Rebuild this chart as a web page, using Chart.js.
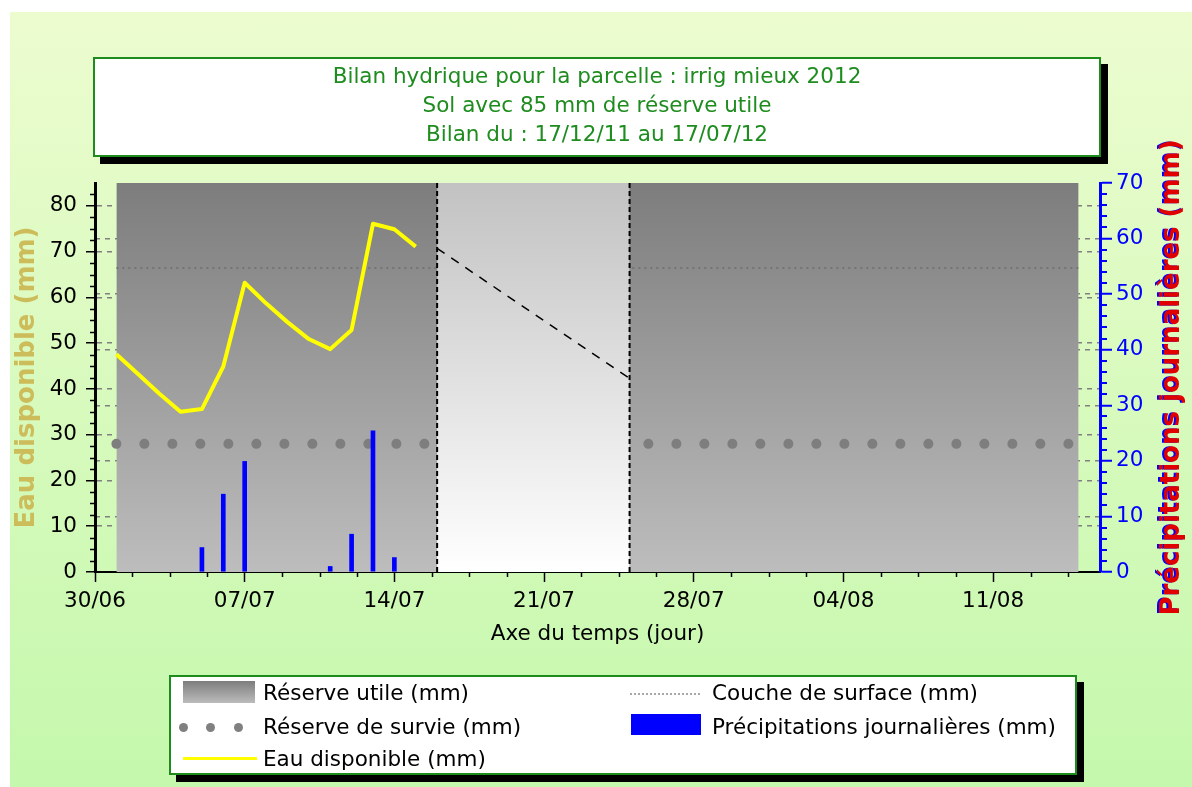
<!DOCTYPE html>
<html lang="fr">
<head>
<meta charset="utf-8">
<title>Bilan hydrique</title>
<script src="https://cdn.jsdelivr.net/npm/chart.js@4.4.0/dist/chart.umd.min.js"></script>
<style>
    html, body {
        margin: 0;
        padding: 0;
        background: #ffffff;
    }

    body {
        position: relative;
        width: 1192px;
        height: 787px;
        overflow: hidden;
        font-family: "DejaVu Sans", sans-serif;
    }

    .backdrop {
        position: absolute;
        left: 10px;
        top: 12px;
        right: 0;
        bottom: 0;
        background: linear-gradient(#ecfccf, #c4f8ac);
    }

    #chart {
        position: absolute;
        left: 0;
        top: 0;
    }

    .box {
        position: absolute;
        box-sizing: border-box;
        background: #ffffff;
        border: 2px solid #1d8c1d;
        box-shadow: 7px 7px 0 #000000;
    }

    .title-box {
        left: 93px;
        top: 57px;
        width: 1008px;
        height: 100px;
        padding-top: 2px;
        color: #1e8c1e;
        font-size: 21.5px;
        line-height: 29px;
        text-align: center;
        white-space: nowrap;
    }

    .legend-box {
        left: 169px;
        top: 675px;
        width: 908px;
        height: 100px;
        font-size: 21.5px;
        color: #000000;
    }

    .legend-box > div {
        position: absolute;
    }

    .label {
        line-height: 26px;
        white-space: nowrap;
    }

    .swatch-reserve {
        background: linear-gradient(#7d7d7d, #bcbcbc);
    }

    .dot {
        width: 9px;
        height: 9px;
        border-radius: 50%;
        background: #808080;
    }
</style>
</head>
<body>
<div class="backdrop"></div>
<canvas id="chart" width="1192" height="787"></canvas>

<div class="box title-box">
    <div>Bilan hydrique pour la parcelle : irrig mieux 2012</div>
    <div>Sol avec 85 mm de réserve utile</div>
    <div>Bilan du : 17/12/11 au 17/07/12</div>
</div>

<div class="box legend-box">
    <div class="swatch-reserve" style="left:12px; top:4px; width:72px; height:22px;"></div>
    <div class="label" style="left:92px; top:3px;">Réserve utile (mm)</div>

    <div class="dot" style="left:8px; top:46px;"></div>
    <div class="dot" style="left:35px; top:46px;"></div>
    <div class="dot" style="left:63px; top:46px;"></div>
    <div class="label" style="left:92px; top:37px;">Réserve de survie (mm)</div>

    <div style="left:12px; top:80px; width:74px; height:3px; background:#ffff00;"></div>
    <div class="label" style="left:92px; top:69px;">Eau disponible (mm)</div>

    <div style="left:459px; top:16px; width:70px; height:0; border-top:2px dotted #a8a8a8;"></div>
    <div class="label" style="left:541px; top:3px;">Couche de surface (mm)</div>

    <div style="left:460px; top:37px; width:70px; height:21px; background:#0000ff;"></div>
    <div class="label" style="left:541px; top:37px;">Précipitations journalières (mm)</div>
</div>

<script>
// jours comptés depuis le 30/06
const xRange = [0, 47];
const xTickLabels = ["30/06", "07/07", "14/07", "21/07", "28/07", "04/08", "11/08"];

const observedDays = [1, 2, 3, 4, 5, 6, 7, 8, 9, 10, 11, 12, 13, 14, 15];
const eauDisponible = [47.6, 43.3, 39.0, 35.0, 35.6, 44.9, 63.2, 58.7, 54.6, 50.9, 48.7, 52.9, 76.1, 74.9, 71.1];

// prévision : 16/07 -> 25/07
const forecastDays = [16, 25];
const forecastEau = [70.7, 42.3];

const rainDays = [5, 6, 7, 11, 12, 13, 14];
const rainValues = [4.4, 14.0, 19.9, 1.0, 6.8, 25.4, 2.6];

const reserveDays = [1, 46];
const reserveUtile = [85, 85];
const reserveSurvie = [28, 28];
const coucheSurface = [66.4, 66.4];

const yRange = [0, 85];
const y2Range = [0, 70];

const leftTitle = "Eau disponible (mm)";
const rightTitle = "Précipitations journalières (mm)";

const minorSteps = {
    x: 1.75,
    y: 2.5,
    y2: 2
};

function points(xs, ys) {
    return xs.map((x, i) => ({ x: x, y: ys[i] }));
}

function verticalGradient(top, bottom) {
    return (context) => {
        const chart = context.chart;
        const area = chart.chartArea;

        if (!area) {
            return bottom;
        }

        const g = chart.ctx.createLinearGradient(0, area.top, 0, area.bottom);
        g.addColorStop(0, top);
        g.addColorStop(1, bottom);
        return g;
    };
}

// pas de trait pointillé sur les bords du cadre
function innerGrid(range) {
    return (c) => {
        if (!c.tick || c.tick.value === range[0] || c.tick.value === range[1]) {
            return "rgba(0,0,0,0)";
        }
        return "#808080";
    };
}

const minorTicks = {
    id: "minorTicks",
    afterDraw(chart) {
        const ctx = chart.ctx;
        const { x, y, y2 } = chart.scales;

        ctx.save();
        ctx.lineWidth = 1.5;

        ctx.strokeStyle = "#000000";
        for (let v = minorSteps.x; v < x.max; v += minorSteps.x) {
            if (Math.abs(v / 7 - Math.round(v / 7)) < 1e-6) {
                continue;
            }
            const px = Math.round(x.getPixelForValue(v)) + 0.5;
            ctx.beginPath();
            ctx.moveTo(px, x.top);
            ctx.lineTo(px, x.top + 5);
            ctx.stroke();
        }

        for (let v = minorSteps.y; v < y.max; v += minorSteps.y) {
            if (v % 10 === 0) {
                continue;
            }
            const py = Math.round(y.getPixelForValue(v)) + 0.5;
            ctx.beginPath();
            ctx.moveTo(y.right - 5, py);
            ctx.lineTo(y.right, py);
            ctx.stroke();
        }

        ctx.strokeStyle = "#0000ff";
        ctx.lineWidth = 2;
        for (let v = minorSteps.y2; v < y2.max; v += minorSteps.y2) {
            if (v % 10 === 0) {
                continue;
            }
            const py = Math.round(y2.getPixelForValue(v));
            ctx.beginPath();
            ctx.moveTo(y2.left, py);
            ctx.lineTo(y2.left + 7, py);
            ctx.stroke();
        }

        ctx.restore();
    }
};

const rightAxisTitle = {
    id: "rightAxisTitle",
    afterDraw(chart) {
        const ctx = chart.ctx;
        const area = chart.chartArea;
        const y2 = chart.scales.y2;

        ctx.save();
        ctx.translate(y2.right - 20, (area.top + area.bottom) / 2);
        ctx.rotate(-Math.PI / 2);
        ctx.font = "bold 26px 'DejaVu Sans'";
        ctx.textAlign = "center";
        ctx.textBaseline = "middle";
        ctx.fillStyle = "#0000ff";
        ctx.fillText(rightTitle, 0, -2);
        ctx.fillStyle = "#e00000";
        ctx.fillText(rightTitle, 0, 0);
        ctx.restore();
    }
};

Chart.defaults.font.family = "'DejaVu Sans'";
Chart.defaults.font.size = 21.5;
Chart.defaults.color = "#000000";

new Chart(document.getElementById("chart"), {
    type: "line",
    data: {
        datasets: [
            {
                label: "Réserve utile (mm)",
                data: points(reserveDays, reserveUtile),
                fill: "origin",
                backgroundColor: verticalGradient("#7d7d7d", "#bdbdbd"),
                borderWidth: 0,
                pointRadius: 0,
                order: 10
            },
            {
                label: "Couche de surface (mm)",
                data: points(reserveDays, coucheSurface),
                borderColor: "#6c6c6c",
                borderWidth: 1.5,
                borderDash: [2, 4],
                pointRadius: 0,
                order: 9
            },
            {
                label: "Réserve de survie (mm)",
                data: points(reserveDays, reserveSurvie),
                borderColor: "#7e7e7e",
                borderWidth: 10,
                borderDash: [0, 28],
                borderCapStyle: "round",
                pointRadius: 0,
                order: 8
            },
            {
                label: "Prévision",
                data: points(forecastDays, [yRange[1], yRange[1]]),
                fill: "origin",
                backgroundColor: verticalGradient("#c2c2c2", "#ffffff"),
                borderWidth: 0,
                pointRadius: 0,
                order: 7
            },
            {
                label: "Début prévision",
                data: points([forecastDays[0], forecastDays[0]], yRange),
                borderColor: "#000000",
                borderWidth: 2,
                borderDash: [5, 3],
                pointRadius: 0,
                order: 6
            },
            {
                label: "Fin prévision",
                data: points([forecastDays[1], forecastDays[1]], yRange),
                borderColor: "#000000",
                borderWidth: 2,
                borderDash: [5, 3],
                pointRadius: 0,
                order: 6
            },
            {
                label: "Eau disponible prévue",
                data: points(forecastDays, forecastEau),
                borderColor: "#000000",
                borderWidth: 1.5,
                borderDash: [9, 8],
                pointRadius: 0,
                order: 5
            },
            {
                label: "Eau disponible (mm)",
                data: points(observedDays, eauDisponible),
                borderColor: "#ffff00",
                borderWidth: 4,
                borderJoinStyle: "round",
                pointRadius: 0,
                tension: 0,
                order: 3
            },
            {
                type: "bar",
                label: "Précipitations journalières (mm)",
                data: points(rainDays, rainValues),
                yAxisID: "y2",
                backgroundColor: "#0000ff",
                barThickness: 4,
                order: 2
            }
        ]
    },
    options: {
        responsive: false,
        animation: false,
        events: [],
        layout: {
            padding: {
                top: 183,
                left: 0,
                right: 0,
                bottom: 0
            }
        },
        plugins: {
            legend: { display: false },
            tooltip: { enabled: false }
        },
        scales: {
            x: {
                type: "linear",
                position: "bottom",
                min: xRange[0],
                max: xRange[1],
                offset: false,
                afterFit(scale) {
                    scale.height = 215;
                },
                ticks: {
                    stepSize: 7,
                    includeBounds: false,
                    autoSkip: false,
                    maxRotation: 0,
                    padding: 7,
                    callback: (v) => xTickLabels[v / 7] ?? ""
                },
                grid: {
                    offset: false,
                    drawOnChartArea: false,
                    tickLength: 10,
                    tickColor: "#000000",
                    tickWidth: 1.5
                },
                border: {
                    color: "#000000",
                    width: 2
                },
                title: {
                    display: true,
                    text: "Axe du temps (jour)",
                    padding: { top: 0, bottom: 140 }
                }
            },
            y: {
                position: "left",
                min: yRange[0],
                max: yRange[1],
                afterFit(scale) {
                    scale.width = 95;
                },
                ticks: {
                    stepSize: 10,
                    includeBounds: false,
                    padding: 9
                },
                grid: {
                    color: innerGrid(yRange),
                    lineWidth: 1.5,
                    tickLength: 9,
                    tickColor: "#000000",
                    tickWidth: 1.5
                },
                border: {
                    color: "#000000",
                    width: 3,
                    dash: [5, 5]
                },
                title: {
                    display: true,
                    text: leftTitle,
                    color: "#cdbd5a",
                    font: { size: 26, weight: "bold" },
                    padding: { top: 12, bottom: 0 }
                }
            },
            y2: {
                position: "right",
                min: y2Range[0],
                max: y2Range[1],
                afterFit(scale) {
                    scale.width = 92;
                },
                ticks: {
                    stepSize: 10,
                    includeBounds: false,
                    padding: 4,
                    color: "#0000ff"
                },
                grid: {
                    color: innerGrid(y2Range),
                    lineWidth: 1.5,
                    tickLength: 12,
                    tickColor: "#0000ff",
                    tickWidth: 2
                },
                border: {
                    color: "#0000ff",
                    width: 3,
                    dash: [5, 5]
                }
            }
        }
    },
    plugins: [minorTicks, rightAxisTitle]
});
</script>
</body>
</html>
